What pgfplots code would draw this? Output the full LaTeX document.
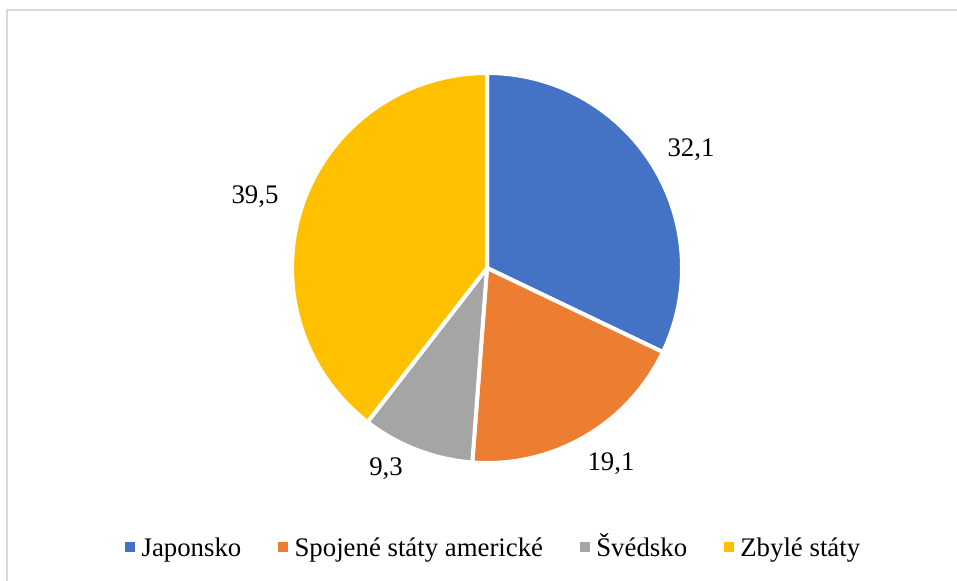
\documentclass[border=0pt]{standalone}
\usepackage{pgfplots}
\pgfplotsset{compat=1.18}
\usepackage{pgfplotstable}
\usepackage{fontspec}
\setmainfont{Liberation Serif}

\definecolor{cJap}{HTML}{4472C4}
\definecolor{cUSA}{HTML}{ED7D31}
\definecolor{cSwe}{HTML}{A5A5A5}
\definecolor{cRest}{HTML}{FFC000}
\definecolor{bord}{HTML}{D9D9D9}

% podíly v procentech, pořadí po směru hodinových ručiček od 12 h
\pgfplotstableread{
label value color
Japonsko 32.1 cJap
{Spojené státy americké} 19.1 cUSA
Švédsko 9.3 cSwe
{Zbylé státy} 39.5 cRest
}\piedata

\def\R{97.5pt}

\begin{document}
\fontsize{13.4}{15}\selectfont
\begin{tikzpicture}
\begin{axis}[
  scale only axis, width=478.5pt, height=290.5pt,
  xmin=0, xmax=957, ymin=0, ymax=581,
  axis lines=none, ticks=none, clip=false,
  legend columns=-1,
  legend style={draw=none, fill=none, font=\fontsize{13.4}{15}\selectfont,
    at={(axis cs:496,34)}, anchor=center,
    nodes={text height=0.95em, text depth=0.25em, inner xsep=3.5pt},
    /tikz/every even column/.append style={column sep=14.7pt},
    /tikz/every odd column/.append style={column sep=0pt}},
]
\pgfplotsextra{
  \xdef\cum{0}
  \foreach \i in {0,...,3}{
    \pgfplotstablegetelem{\i}{value}\of\piedata \let\v\pgfplotsretval
    \pgfplotstablegetelem{\i}{color}\of\piedata \let\c\pgfplotsretval
    \pgfmathsetmacro\a{90-3.6*\cum}
    \pgfmathsetmacro\b{90-3.6*(\cum+\v)}
    \filldraw[fill=\c, draw=white, line width=2pt, line join=round]
      (axis cs:487,313) -- ++(\a:\R) arc[start angle=\a, end angle=\b, radius=\R] -- cycle;
    \pgfmathsetmacro\n{\cum+\v}\xdef\cum{\n}
  }
}
\draw[bord, line width=1pt] (axis cs:6.5,0) -- (axis cs:6.5,570.5) -- (axis cs:957,570.5);
\node[anchor=base] at (axis cs:691,424) {32,1};
\node[anchor=base] at (axis cs:611,110) {19,1};
\node[anchor=base] at (axis cs:386,105) {9,3};
\node[anchor=base] at (axis cs:255,377) {39,5};
\addlegendimage{legend image code/.code={\fill[cJap] (0pt,-2.25pt) rectangle (4.5pt,2.25pt);}}
\addlegendentry{Japonsko}
\addlegendimage{legend image code/.code={\fill[cUSA] (0pt,-2.25pt) rectangle (4.5pt,2.25pt);}}
\addlegendentry{Spojené státy americké}
\addlegendimage{legend image code/.code={\fill[cSwe] (0pt,-2.25pt) rectangle (4.5pt,2.25pt);}}
\addlegendentry{Švédsko}
\addlegendimage{legend image code/.code={\fill[cRest] (0pt,-2.25pt) rectangle (4.5pt,2.25pt);}}
\addlegendentry{Zbylé státy}
\end{axis}
\pgfresetboundingbox
\path (current axis.south west) rectangle (current axis.north east);
\end{tikzpicture}
\end{document}
